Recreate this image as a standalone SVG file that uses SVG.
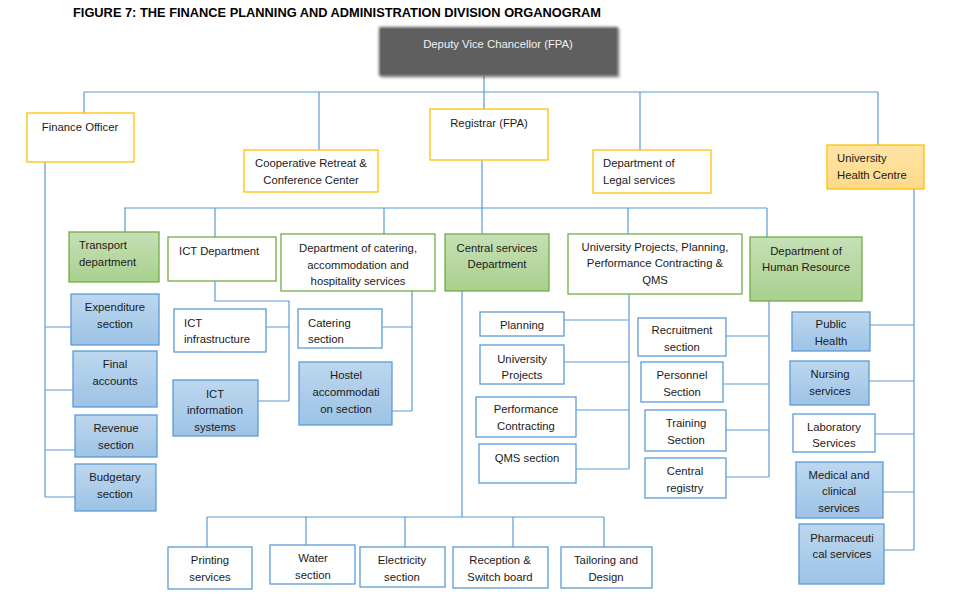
<svg xmlns="http://www.w3.org/2000/svg" width="959" height="600" viewBox="0 0 959 600">
<defs>
<linearGradient id="gGreen" x1="0" y1="0" x2="0" y2="1"><stop offset="0" stop-color="#c6e0b6"/><stop offset="1" stop-color="#a8d08d"/></linearGradient>
<linearGradient id="gBlue" x1="0" y1="0" x2="0" y2="1"><stop offset="0" stop-color="#bdd7ee"/><stop offset="1" stop-color="#9dc3e6"/></linearGradient>
<linearGradient id="gOrange" x1="0" y1="0" x2="0" y2="1"><stop offset="0" stop-color="#ffe4a6"/><stop offset="1" stop-color="#ffd98a"/></linearGradient>
<filter id="soft" x="-10%" y="-20%" width="120%" height="140%"><feGaussianBlur stdDeviation="1.5"/></filter>
</defs>
<style>
text{font-family:"Liberation Sans",Arial,sans-serif;font-size:11.3px;fill:#1a1a1a}
.c{text-anchor:middle}
.yel{fill:#fff;stroke:#ffc000;stroke-width:1.3}
.grn{fill:url(#gGreen);stroke:#70ad47;stroke-width:1.3}
.gw{fill:#fff;stroke:#70ad47;stroke-width:1.3}
.blu{fill:url(#gBlue);stroke:#5b9bd5;stroke-width:1.3}
.bw{fill:#fff;stroke:#5b9bd5;stroke-width:1.3}
.org{fill:url(#gOrange);stroke:#ffc000;stroke-width:1.3}
#connectors path{fill:none;stroke:#5b9bd5;stroke-width:1.2}
</style>
<rect width="959" height="600" fill="#fff"/>
<text x="73" y="17" style="font-weight:bold;font-size:12px;fill:#000" textLength="528" lengthAdjust="spacingAndGlyphs">FIGURE 7: THE FINANCE PLANNING AND ADMINISTRATION DIVISION ORGANOGRAM</text>

<g id="connectors">
<path d="M484 76V92M84 92H878M84 92V113M319 92V150M484 92V109M640 92V150M878 92V146"/>
<path d="M45 162V497M45 327H71M45 390H73M45 450H75M45 497H75"/>
<path d="M482 160V234M124 208H767M125 208V232M215 208V237M384 208V234M628 208V234M767 208V237"/>
<path d="M215 281V301H289V401M266 327H289M258 401H289"/>
<path d="M412 291V411M382 327H412M392 411H412"/>
<path d="M462 291V517M207 517H604M207 517V547M306 517V545M405 517V547M513 517V547M604 517V547"/>
<path d="M629 294V469M564 320H629M564 362H629M576 410H629M576 469H629"/>
<path d="M769 301V477M726 336H769M723 384H769M726 430H769M726 477H769"/>
<path d="M914 189V550M870 325H914M869 381H914M875 434H914M883 492H914M884 550H914"/>
</g>

<g id="dvc">
<rect x="381" y="29" width="239" height="49" fill="#000" opacity="0.25" filter="url(#soft)"/>
<rect x="379" y="27" width="239" height="49" fill="#5f5f5f" filter="url(#soft)"/>
<rect x="381" y="29" width="235" height="45" fill="#5f5f5f"/>
<text class="c" x="498" y="48" style="fill:#f0f0f0">Deputy Vice Chancellor (FPA)</text>
</g>

<g id="finance-officer"><rect class="yel" x="27" y="113" width="107" height="49"/><text class="c" x="80" y="131">Finance Officer</text></g>
<g id="coop"><rect class="yel" x="244" y="150" width="134" height="42"/><text class="c" x="311" y="167">Cooperative Retreat &amp;</text><text class="c" x="311" y="184">Conference Center</text></g>
<g id="registrar"><rect class="yel" x="430" y="109" width="118" height="51"/><text class="c" x="489" y="127">Registrar (FPA)</text></g>
<g id="legal"><rect class="yel" x="593" y="150" width="118" height="43"/><text x="603" y="167">Department of</text><text x="603" y="184">Legal services</text></g>
<g id="uhc"><rect class="org" x="827" y="145" width="97" height="44"/><text x="837" y="162">University</text><text x="837" y="179">Health Centre</text></g>

<g id="transport"><rect class="grn" x="69" y="232" width="90" height="50"/><text x="79" y="249">Transport</text><text x="79" y="266">department</text></g>
<g id="ict"><rect class="gw" x="168" y="237" width="108" height="44"/><text x="179" y="255">ICT Department</text></g>
<g id="catering-dept"><rect class="gw" x="281" y="234" width="154" height="57"/><text class="c" x="358" y="252">Department of catering,</text><text class="c" x="358" y="269">accommodation and</text><text class="c" x="358" y="285">hospitality services</text></g>
<g id="central-services"><rect class="grn" x="445" y="234" width="104" height="57"/><text class="c" x="497" y="252">Central services</text><text class="c" x="497" y="268">Department</text></g>
<g id="upp"><rect class="gw" x="568" y="234" width="174" height="60"/><text class="c" x="655" y="251">University Projects, Planning,</text><text class="c" x="655" y="267">Performance Contracting &amp;</text><text class="c" x="655" y="284">QMS</text></g>
<g id="hr"><rect class="grn" x="750" y="237" width="112" height="64"/><text class="c" x="806" y="255">Department of</text><text class="c" x="806" y="271">Human Resource</text></g>

<g id="expenditure"><rect class="blu" x="71" y="294" width="88" height="51"/><text class="c" x="115" y="311">Expenditure</text><text class="c" x="115" y="328">section</text></g>
<g id="final"><rect class="blu" x="73" y="351" width="84" height="56"/><text class="c" x="115" y="368">Final</text><text class="c" x="115" y="385">accounts</text></g>
<g id="revenue"><rect class="blu" x="75" y="415" width="82" height="42"/><text class="c" x="116" y="432">Revenue</text><text class="c" x="116" y="449">section</text></g>
<g id="budgetary"><rect class="blu" x="75" y="464" width="81" height="47"/><text class="c" x="115" y="481">Budgetary</text><text class="c" x="115" y="498">section</text></g>

<g id="ict-infra"><rect class="bw" x="174" y="309" width="92" height="43"/><text x="184" y="327">ICT</text><text x="184" y="343">infrastructure</text></g>
<g id="ict-info"><rect class="blu" x="173" y="380" width="85" height="56"/><text class="c" x="215" y="398">ICT</text><text class="c" x="215" y="414">information</text><text class="c" x="215" y="431">systems</text></g>
<g id="catering-section"><rect class="bw" x="298" y="309" width="84" height="39"/><text x="308" y="327">Catering</text><text x="308" y="343">section</text></g>
<g id="hostel"><rect class="blu" x="299" y="362" width="93" height="63"/><text class="c" x="346" y="379">Hostel</text><text class="c" x="346" y="396">accommodati</text><text class="c" x="346" y="413">on section</text></g>

<g id="planning"><rect class="bw" x="480" y="312" width="84" height="24"/><text class="c" x="522" y="329">Planning</text></g>
<g id="univ-projects"><rect class="bw" x="480" y="345" width="84" height="39"/><text class="c" x="522" y="363">University</text><text class="c" x="522" y="379">Projects</text></g>
<g id="perf-contracting"><rect class="bw" x="476" y="397" width="100" height="40"/><text class="c" x="526" y="413">Performance</text><text class="c" x="526" y="430">Contracting</text></g>
<g id="qms"><rect class="bw" x="479" y="444" width="97" height="39"/><text class="c" x="527" y="462">QMS section</text></g>

<g id="recruitment"><rect class="bw" x="638" y="318" width="88" height="38"/><text class="c" x="682" y="334">Recruitment</text><text class="c" x="682" y="351">section</text></g>
<g id="personnel"><rect class="bw" x="641" y="362" width="82" height="40"/><text class="c" x="682" y="379">Personnel</text><text class="c" x="682" y="396">Section</text></g>
<g id="training"><rect class="bw" x="645" y="410" width="81" height="41"/><text class="c" x="686" y="427">Training</text><text class="c" x="686" y="444">Section</text></g>
<g id="central-registry"><rect class="bw" x="645" y="458" width="81" height="40"/><text class="c" x="685" y="475">Central</text><text class="c" x="685" y="492">registry</text></g>

<g id="public-health"><rect class="blu" x="792" y="312" width="78" height="39"/><text class="c" x="831" y="328">Public</text><text class="c" x="831" y="345">Health</text></g>
<g id="nursing"><rect class="blu" x="790" y="361" width="79" height="44"/><text class="c" x="830" y="378">Nursing</text><text class="c" x="830" y="395">services</text></g>
<g id="laboratory"><rect class="bw" x="793" y="414" width="82" height="38"/><text class="c" x="834" y="431">Laboratory</text><text class="c" x="834" y="447">Services</text></g>
<g id="medical"><rect class="blu" x="796" y="462" width="87" height="56"/><text class="c" x="839" y="479">Medical and</text><text class="c" x="839" y="495">clinical</text><text class="c" x="839" y="512">services</text></g>
<g id="pharma"><rect class="blu" x="799" y="524" width="85" height="60"/><text class="c" x="842" y="542">Pharmaceuti</text><text class="c" x="842" y="558">cal services</text></g>

<g id="printing"><rect class="bw" x="168" y="547" width="84" height="42"/><text class="c" x="210" y="564">Printing</text><text class="c" x="210" y="581">services</text></g>
<g id="water"><rect class="bw" x="270" y="545" width="85" height="39"/><text class="c" x="313" y="562">Water</text><text class="c" x="313" y="579">section</text></g>
<g id="electricity"><rect class="bw" x="360" y="547" width="85" height="40"/><text class="c" x="402" y="564">Electricity</text><text class="c" x="402" y="581">section</text></g>
<g id="reception"><rect class="bw" x="453" y="547" width="95" height="41"/><text class="c" x="500" y="564">Reception &amp;</text><text class="c" x="500" y="581">Switch board</text></g>
<g id="tailoring"><rect class="bw" x="561" y="547" width="91" height="41"/><text class="c" x="606" y="564">Tailoring and</text><text class="c" x="606" y="581">Design</text></g>
</svg>
